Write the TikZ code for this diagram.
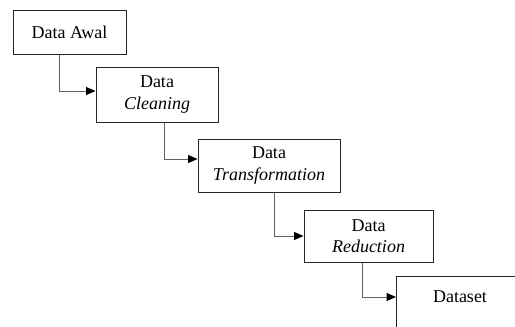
\documentclass[tikz,border=0pt]{standalone}
\usepackage{fontspec}
\setmainfont{Liberation Serif}
\usetikzlibrary{arrows.meta,calc}
\begin{document}
\begin{tikzpicture}[x=1pt,y=-1pt,
  stage/.style={draw=black!85, line width=1pt, fill=white, align=center,
    font=\fontsize{18}{21.5}\selectfont, inner sep=0pt},
  conn/.style={draw=black!62, line width=1pt,
    -{Triangle[length=9.5pt,width=8pt,color=black]}}]
\clip (0,0) rectangle (515,327);
\fill[white] (0,0) rectangle (515,327);
\node[stage, minimum width=113, minimum height=44] (box1) at (69.5,32) {Data Awal};
\node[stage, minimum width=122, minimum height=55] (box2) at (157,94.5) {Data\\\textit{Cleaning}};
\node[stage, minimum width=142, minimum height=53] (box3) at (269,165.5) {Data\\\textit{Transformation}};
\node[stage, minimum width=129, minimum height=52] (box4) at (368.5,236) {Data\\\textit{Reduction}};
\node[stage, minimum width=140, minimum height=70, anchor=north west] (box5) at (396,276) {};
\node[font=\fontsize{18}{21.5}\selectfont, inner sep=0pt] (lbl5) at ($(box5.north west)+(64,21)$) {Dataset};
\draw[conn] ([xshift=-10.5pt]box1.south) |- ([yshift=3.5pt]box2.west);
\draw[conn] ([xshift=7pt]box2.south) |- ([yshift=6.5pt]box3.west);
\draw[conn] ([xshift=5pt]box3.south) |- (box4.west);
\draw[conn] ([xshift=-6.5pt]box4.south) |- ($(box5.north west)+(0,21)$);
\end{tikzpicture}
\end{document}
